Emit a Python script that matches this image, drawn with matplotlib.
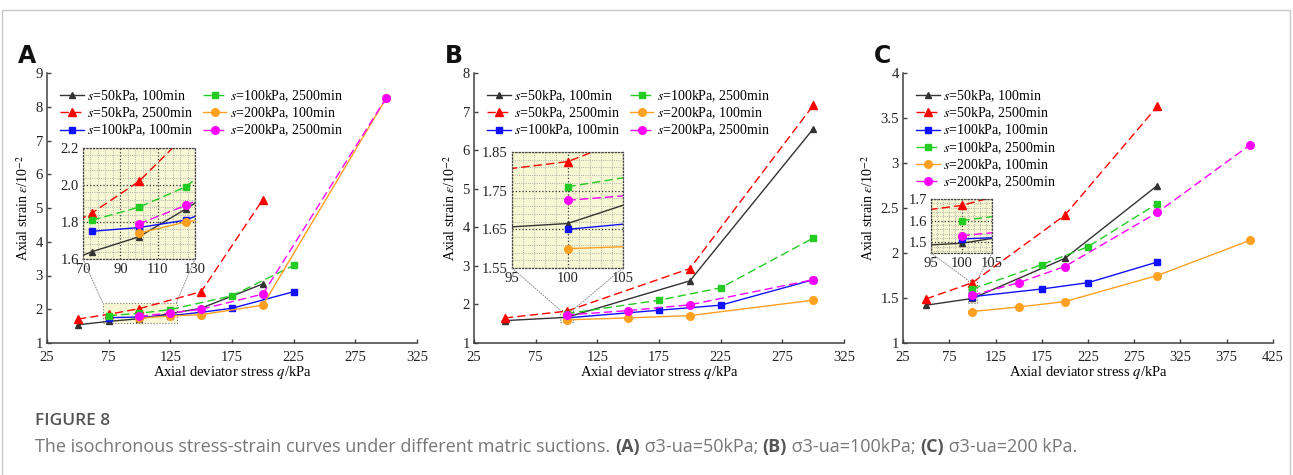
#!/usr/bin/env python3
"""Isochronous stress-strain curves under different matric suctions (three panels with zoom insets)."""

import matplotlib

matplotlib.use("Agg")

import matplotlib.pyplot as plt
from matplotlib.patches import Rectangle, ConnectionPatch
from matplotlib.ticker import AutoMinorLocator, FormatStrFormatter

plt.rcParams["font.family"] = ["Liberation Serif", "DejaVu Serif"]
plt.rcParams["mathtext.fontset"] = "stix"

# ---- data (q in kPa, strain in 10^-2) ----
LABELS = [
    "$s$=50kPa, 100min",
    "$s$=50kPa, 2500min",
    "$s$=100kPa, 100min",
    "$s$=100kPa, 2500min",
    "$s$=200kPa, 100min",
    "$s$=200kPa, 2500min",
]

# panel A: sigma3-ua = 50 kPa
a_q_s50_100 = [50, 75, 100, 125, 150, 200]
a_e_s50_100 = [1.54, 1.64, 1.72, 1.87, 2.03, 2.75]
a_q_s50_2500 = [50, 75, 100, 150, 200]
a_e_s50_2500 = [1.71, 1.85, 2.02, 2.52, 5.25]
a_q_s100_100 = [75, 100, 125, 150, 175, 225]
a_e_s100_100 = [1.75, 1.77, 1.81, 1.91, 2.03, 2.52]
a_q_s100_2500 = [75, 100, 125, 175, 225]
a_e_s100_2500 = [1.81, 1.88, 1.99, 2.40, 3.30]
a_q_s200_100 = [100, 125, 150, 200, 300]
a_e_s200_100 = [1.74, 1.80, 1.84, 2.12, 8.25]
a_q_s200_2500 = [100, 125, 150, 200, 300]
a_e_s200_2500 = [1.79, 1.89, 2.00, 2.45, 8.26]

# panel B: sigma3-ua = 100 kPa
b_q_s50_100 = [50, 100, 200, 300]
b_e_s50_100 = [1.58, 1.665, 2.61, 6.55]
b_q_s50_2500 = [50, 100, 200, 300]
b_e_s50_2500 = [1.65, 1.825, 2.93, 7.16]
b_q_s100_100 = [100, 175, 225, 300]
b_e_s100_100 = [1.65, 1.85, 1.98, 2.64]
b_q_s100_2500 = [100, 175, 225, 300]
b_e_s100_2500 = [1.76, 2.11, 2.43, 3.72]
b_q_s200_100 = [100, 150, 200, 300]
b_e_s200_100 = [1.60, 1.65, 1.71, 2.11]
b_q_s200_2500 = [100, 150, 200, 300]
b_e_s200_2500 = [1.725, 1.84, 1.99, 2.64]

# panel C: sigma3-ua = 200 kPa
c_q_s50_100 = [50, 100, 200, 300]
c_e_s50_100 = [1.42, 1.495, 1.94, 2.75]
c_q_s50_2500 = [50, 100, 200, 300]
c_e_s50_2500 = [1.49, 1.67, 2.42, 3.63]
c_q_s100_100 = [100, 175, 225, 300]
c_e_s100_100 = [1.515, 1.60, 1.67, 1.90]
c_q_s100_2500 = [100, 175, 225, 300]
c_e_s100_2500 = [1.60, 1.87, 2.07, 2.55]
c_q_s200_100 = [100, 150, 200, 300, 400]
c_e_s200_100 = [1.35, 1.40, 1.46, 1.75, 2.14]
c_q_s200_2500 = [100, 150, 200, 300, 400]
c_e_s200_2500 = [1.53, 1.67, 1.85, 2.45, 3.20]

STYLES = [
    dict(color="#333333", ls="-", marker="^", ms=5),
    dict(color="#ff0000", ls=(0, (6, 3)), marker="^", ms=5.5),
    dict(color="#1010ff", ls="-", marker="s", ms=4.5),
    dict(color="#22cc22", ls=(0, (6, 3)), marker="s", ms=4.5),
    dict(color="#ffa020", ls="-", marker="o", ms=5.5),
    dict(color="#ff00ff", ls=(0, (6, 3)), marker="o", ms=5.5),
]

PANELS = [
    dict(
        letter="A",
        series=[
            (a_q_s50_100, a_e_s50_100), (a_q_s50_2500, a_e_s50_2500),
            (a_q_s100_100, a_e_s100_100), (a_q_s100_2500, a_e_s100_2500),
            (a_q_s200_100, a_e_s200_100), (a_q_s200_2500, a_e_s200_2500),
        ],
        xlim=(25, 325), xticks=range(25, 326, 50),
        ylim=(1, 9), yticks=range(1, 10),
        ncol=2,
        inset_px=(83, 148, 195, 259),
        inset_xlim=(70, 130), inset_xticks=[70, 90, 110, 130],
        inset_ylim=(1.6, 2.2), inset_yticks=[1.6, 1.8, 2.0, 2.2], inset_fmt="%.1f",
    ),
    dict(
        letter="B",
        series=[
            (b_q_s50_100, b_e_s50_100), (b_q_s50_2500, b_e_s50_2500),
            (b_q_s100_100, b_e_s100_100), (b_q_s100_2500, b_e_s100_2500),
            (b_q_s200_100, b_e_s200_100), (b_q_s200_2500, b_e_s200_2500),
        ],
        xlim=(25, 325), xticks=range(25, 326, 50),
        ylim=(1, 8), yticks=range(1, 9),
        ncol=2,
        inset_px=(512, 152, 623, 268),
        inset_xlim=(95, 105), inset_xticks=[95, 100, 105],
        inset_ylim=(1.55, 1.85), inset_yticks=[1.55, 1.65, 1.75, 1.85], inset_fmt="%.2f",
    ),
    dict(
        letter="C",
        series=[
            (c_q_s50_100, c_e_s50_100), (c_q_s50_2500, c_e_s50_2500),
            (c_q_s100_100, c_e_s100_100), (c_q_s100_2500, c_e_s100_2500),
            (c_q_s200_100, c_e_s200_100), (c_q_s200_2500, c_e_s200_2500),
        ],
        xlim=(25, 425), xticks=range(25, 426, 50),
        ylim=(1, 4), yticks=[1, 1.5, 2, 2.5, 3, 3.5, 4],
        ncol=1,
        inset_px=(931, 199, 992, 253),
        inset_xlim=(95, 105), inset_xticks=[95, 100, 105],
        inset_ylim=(1.45, 1.7), inset_yticks=[1.5, 1.6, 1.7], inset_fmt="%.1f",
    ),
]

AXES_PX = [(47, 417), (474, 844), (903, 1273)]
AX_TOP, AX_BOTTOM = 73, 343
W, H = 1293, 475
INSET_BG = "#f7f7d4"


def px_box(x0, y0, x1, y1):
    return [x0 / W, 1 - y1 / H, (x1 - x0) / W, (y1 - y0) / H]


def draw_series(ax, series, lw=1.0):
    for (q, e), style, label in zip(series, STYLES, LABELS):
        ax.plot(q, e, label=label, lw=lw, color=style["color"], ls=style["ls"],
                marker=style["marker"], ms=style["ms"], mfc=style["color"],
                mec=style["color"], dash_capstyle="butt")


def main():
    fig = plt.figure(figsize=(W / 100, H / 100), dpi=100)

    for panel, (x0, x1) in zip(PANELS, AXES_PX):
        ax = fig.add_axes(px_box(x0, AX_TOP, x1, AX_BOTTOM))
        draw_series(ax, panel["series"])
        ax.set_xlim(*panel["xlim"])
        ax.set_ylim(*panel["ylim"])
        ax.set_xticks(list(panel["xticks"]))
        ax.set_yticks(list(panel["yticks"]))
        ax.yaxis.set_major_formatter(plt.FuncFormatter(lambda v, p: f"{v:g}"))
        for side in ("top", "right"):
            ax.spines[side].set_visible(False)
        for side in ("left", "bottom"):
            ax.spines[side].set_color("#404040")
            ax.spines[side].set_linewidth(1.1)
        ax.tick_params(direction="in", length=3, width=1, color="#404040",
                       labelsize=10.5, labelcolor="#222222")
        ax.tick_params(axis="x", pad=6)
        ax.tick_params(axis="y", pad=3)
        ax.set_xlabel("Axial deviator stress $q$/kPa", fontsize=10.5, labelpad=0)
        ax.set_ylabel("Axial strain $\\varepsilon$/10$^{-2}$", fontsize=10, labelpad=3)
        ax.legend(ncol=panel["ncol"], loc="upper left", bbox_to_anchor=(0.02, 0.965),
                  frameon=False, fontsize=10, handlelength=1.7, handletextpad=0.25,
                  labelspacing=0.12, columnspacing=0.7, borderaxespad=0.0)

        # highlighted zoom region on the main axes
        ix0, ix1 = panel["inset_xlim"]
        iy0, iy1 = panel["inset_ylim"]
        ax.add_patch(Rectangle((ix0, iy0), ix1 - ix0, iy1 - iy0, facecolor=INSET_BG,
                               edgecolor="#777777", lw=0.8, ls=":", zorder=0.5))

        ins = fig.add_axes(px_box(*panel["inset_px"]))
        ins.set_facecolor(INSET_BG)
        draw_series(ins, panel["series"])
        ins.set_xlim(ix0, ix1)
        ins.set_ylim(iy0, iy1)
        ins.set_xticks(panel["inset_xticks"])
        ins.set_yticks(panel["inset_yticks"])
        ins.yaxis.set_major_formatter(FormatStrFormatter(panel["inset_fmt"]))
        ins.xaxis.set_minor_locator(AutoMinorLocator(5))
        ins.yaxis.set_minor_locator(AutoMinorLocator(5))
        ins.grid(True, which="major", color="#333333", ls=":", lw=0.9)
        ins.grid(True, which="minor", color="#999999", ls=":", lw=0.6)
        ins.set_axisbelow(True)
        for spine in ins.spines.values():
            spine.set_linestyle(":")
            spine.set_color("#444444")
            spine.set_linewidth(0.9)
        ins.tick_params(which="both", length=0, labelsize=10.5, labelcolor="#222222", pad=3)

        for xa in (ix0, ix1):
            con = ConnectionPatch(xyA=(xa, iy0), coordsA=ins.transData,
                                  xyB=(xa, iy1), coordsB=ax.transData,
                                  color="#888888", lw=0.7, ls=":")
            fig.add_artist(con)

        fig.text((x0 - 29) / W, 1 - 63 / H, panel["letter"], fontsize=17,
                 fontweight="bold", family="DejaVu Sans", color="#111111")

    # outer frame of the figure page
    fig.add_artist(Rectangle((2 / W, -0.01), 1288 / W, 1 - 10 / H + 0.01,
                             transform=fig.transFigure, fill=False,
                             edgecolor="#c8c8c8", lw=1.0))

    fig.text(35 / W, 1 - 425 / H, "FIGURE 8", fontsize=12.5, family="Open Sans",
             fontweight="semibold", color="#555555")

    # caption assembled from plain and bold pieces
    pieces = [
        ("The isochronous stress-strain curves under different matric suctions. ", "normal"),
        ("(A)", "bold"), (" σ3-ua=50kPa; ", "normal"),
        ("(B)", "bold"), (" σ3-ua=100kPa; ", "normal"),
        ("(C)", "bold"), (" σ3-ua=200 kPa.", "normal"),
    ]
    renderer = fig.canvas.get_renderer()
    x = 35 / W
    for txt, weight in pieces:
        t = fig.text(x, 1 - 452 / H, txt, fontsize=13, family="Open Sans",
                     fontweight=weight, color="#777777" if weight == "normal" else "#555555")
        x += t.get_window_extent(renderer).width / W

    fig.savefig("out.png", dpi=100)
    plt.close(fig)


if __name__ == "__main__":
    main()
